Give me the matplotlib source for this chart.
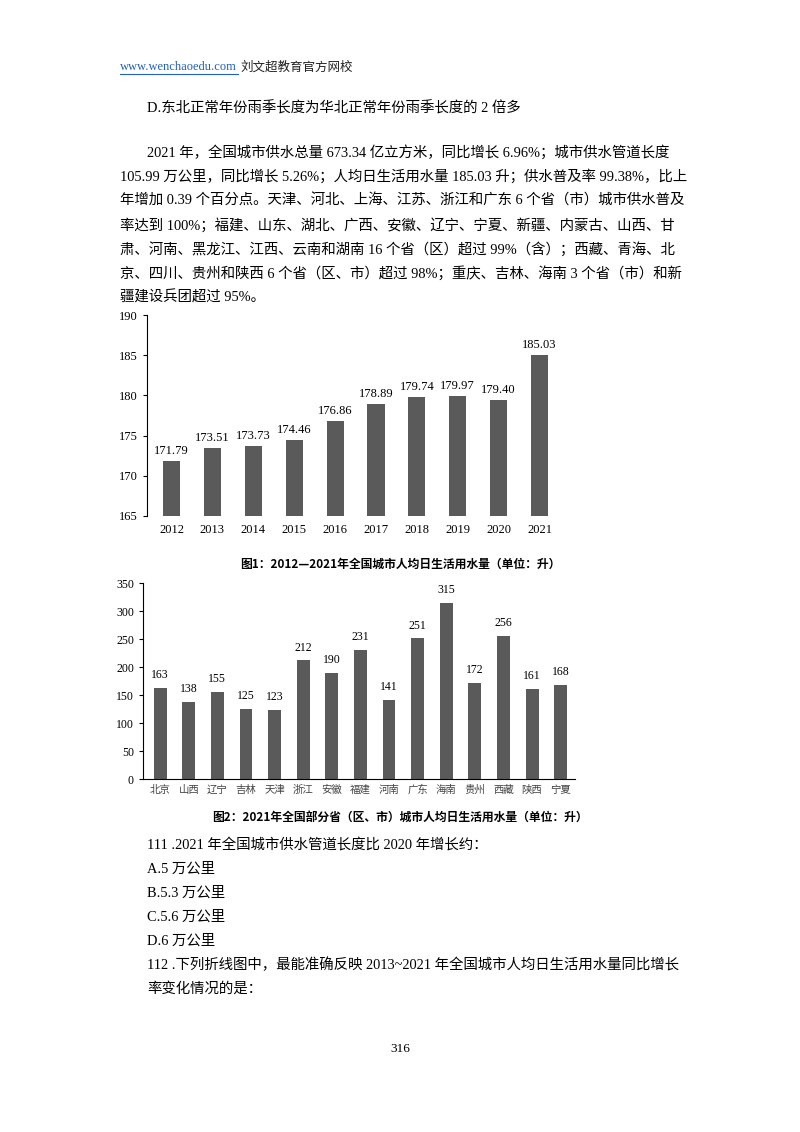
import matplotlib.pyplot as plt

plt.rcParams['font.family'] = ['Liberation Serif', 'Noto Sans CJK SC']

years = ['2012', '2013', '2014', '2015', '2016', '2017', '2018', '2019', '2020', '2021']
per_capita = [171.79, 173.51, 173.73, 174.46, 176.86, 178.89, 179.74, 179.97, 179.40, 185.03]

provinces = ['北京', '山西', '辽宁', '吉林', '天津', '浙江', '安徽', '福建', '河南', '广东',
             '海南', '贵州', '西藏', '陕西', '宁夏']
prov_values = [163, 138, 155, 125, 123, 212, 190, 231, 141, 251, 315, 172, 256, 161, 168]

paragraph = [
    '2021 年，全国城市供水总量 673.34 亿立方米，同比增长 6.96%；城市供水管道长度',
    '105.99 万公里，同比增长 5.26%；人均日生活用水量 185.03 升；供水普及率 99.38%，比上',
    '年增加 0.39 个百分点。天津、河北、上海、江苏、浙江和广东 6 个省（市）城市供水普及',
    '率达到 100%；福建、山东、湖北、广西、安徽、辽宁、宁夏、新疆、内蒙古、山西、甘',
    '肃、河南、黑龙江、江西、云南和湖南 16 个省（区）超过 99%（含）；西藏、青海、北',
    '京、四川、贵州和陕西 6 个省（区、市）超过 98%；重庆、吉林、海南 3 个省（市）和新',
    '疆建设兵团超过 95%。',
]
questions = [
    '111 .2021 年全国城市供水管道长度比 2020 年增长约：',
    'A.5 万公里',
    'B.5.3 万公里',
    'C.5.6 万公里',
    'D.6 万公里',
    '112 .下列折线图中，最能准确反映 2013~2021 年全国城市人均日生活用水量同比增长',
    '率变化情况的是：',
]

W, H = 800, 1132
fig = plt.figure(figsize=(8, 11.32), dpi=100)
fig.patch.set_facecolor('white')


def put(x, y, s, **kw):
    fig.text(x / W, 1 - y / H, s, va='center', **kw)


put(120, 67, 'www.wenchaoedu.com', fontsize=9, color='#2060c0')
fig.add_artist(plt.Line2D([120 / W, 238 / W], [1 - 74 / H] * 2, color='#2060c0', lw=0.8))
put(240, 67, '刘文超教育官方网校', fontsize=9, color='#222222')
put(147, 108, 'D.东北正常年份雨季长度为华北正常年份雨季长度的 2 倍多', fontsize=10.4)

y = 152
for i, line in enumerate(paragraph):
    put(147 if i == 0 else 120, y, line, fontsize=10.4)
    y += 24.3

bar_color = '#5a5a5a'

# 图1
ax1 = fig.add_axes([147 / W, 1 - 516 / H, (560 - 147) / W, (516 - 315) / H])
x1 = range(len(years))
ax1.bar(x1, per_capita, width=0.42, color=bar_color)
ax1.set_ylim(165, 190)
ax1.set_xlim(-0.6, len(years) - 0.5)
ax1.set_xticks(list(x1))
ax1.set_xticklabels(years, fontsize=9)
ax1.set_yticks([165, 170, 175, 180, 185, 190])
ax1.tick_params(axis='y', labelsize=9, length=3)
ax1.tick_params(axis='x', length=0, pad=6)
for s in ['top', 'right', 'bottom']:
    ax1.spines[s].set_visible(False)
for i, v in enumerate(per_capita):
    ax1.text(i, v + 0.5, f'{v:.2f}', ha='center', va='bottom', fontsize=9)
put(400, 564, '图1：2012—2021年全国城市人均日生活用水量（单位：升）', fontsize=8.5,
    ha='center', fontweight='bold', family=['Noto Sans CJK SC'])

# 图2
ax2 = fig.add_axes([143 / W, 1 - 779 / H, (575 - 143) / W, (779 - 583) / H])
x2 = range(len(provinces))
ax2.bar(x2, prov_values, width=0.45, color=bar_color)
ax2.set_ylim(0, 350)
ax2.set_xlim(-0.6, len(provinces) - 0.5)
ax2.set_xticks(list(x2))
ax2.set_xticklabels(provinces, fontsize=7.5, family=['Noto Sans CJK SC'], color='#444444')
ax2.set_yticks(range(0, 351, 50))
ax2.tick_params(axis='y', labelsize=8.5, length=3)
ax2.tick_params(axis='x', length=0, pad=4)
for s in ['top', 'right']:
    ax2.spines[s].set_visible(False)
for i, v in enumerate(prov_values):
    ax2.text(i, v + 12, str(v), ha='center', va='bottom', fontsize=8.5)
put(400, 817, '图2：2021年全国部分省（区、市）城市人均日生活用水量（单位：升）', fontsize=8.5,
    ha='center', fontweight='bold', family=['Noto Sans CJK SC'])

y = 845
for line in questions:
    put(147, y, line, fontsize=10.4)
    y += 24
put(400, 1049, '316', fontsize=9.5, ha='center')

fig.savefig('out.png', dpi=100, facecolor='white')
